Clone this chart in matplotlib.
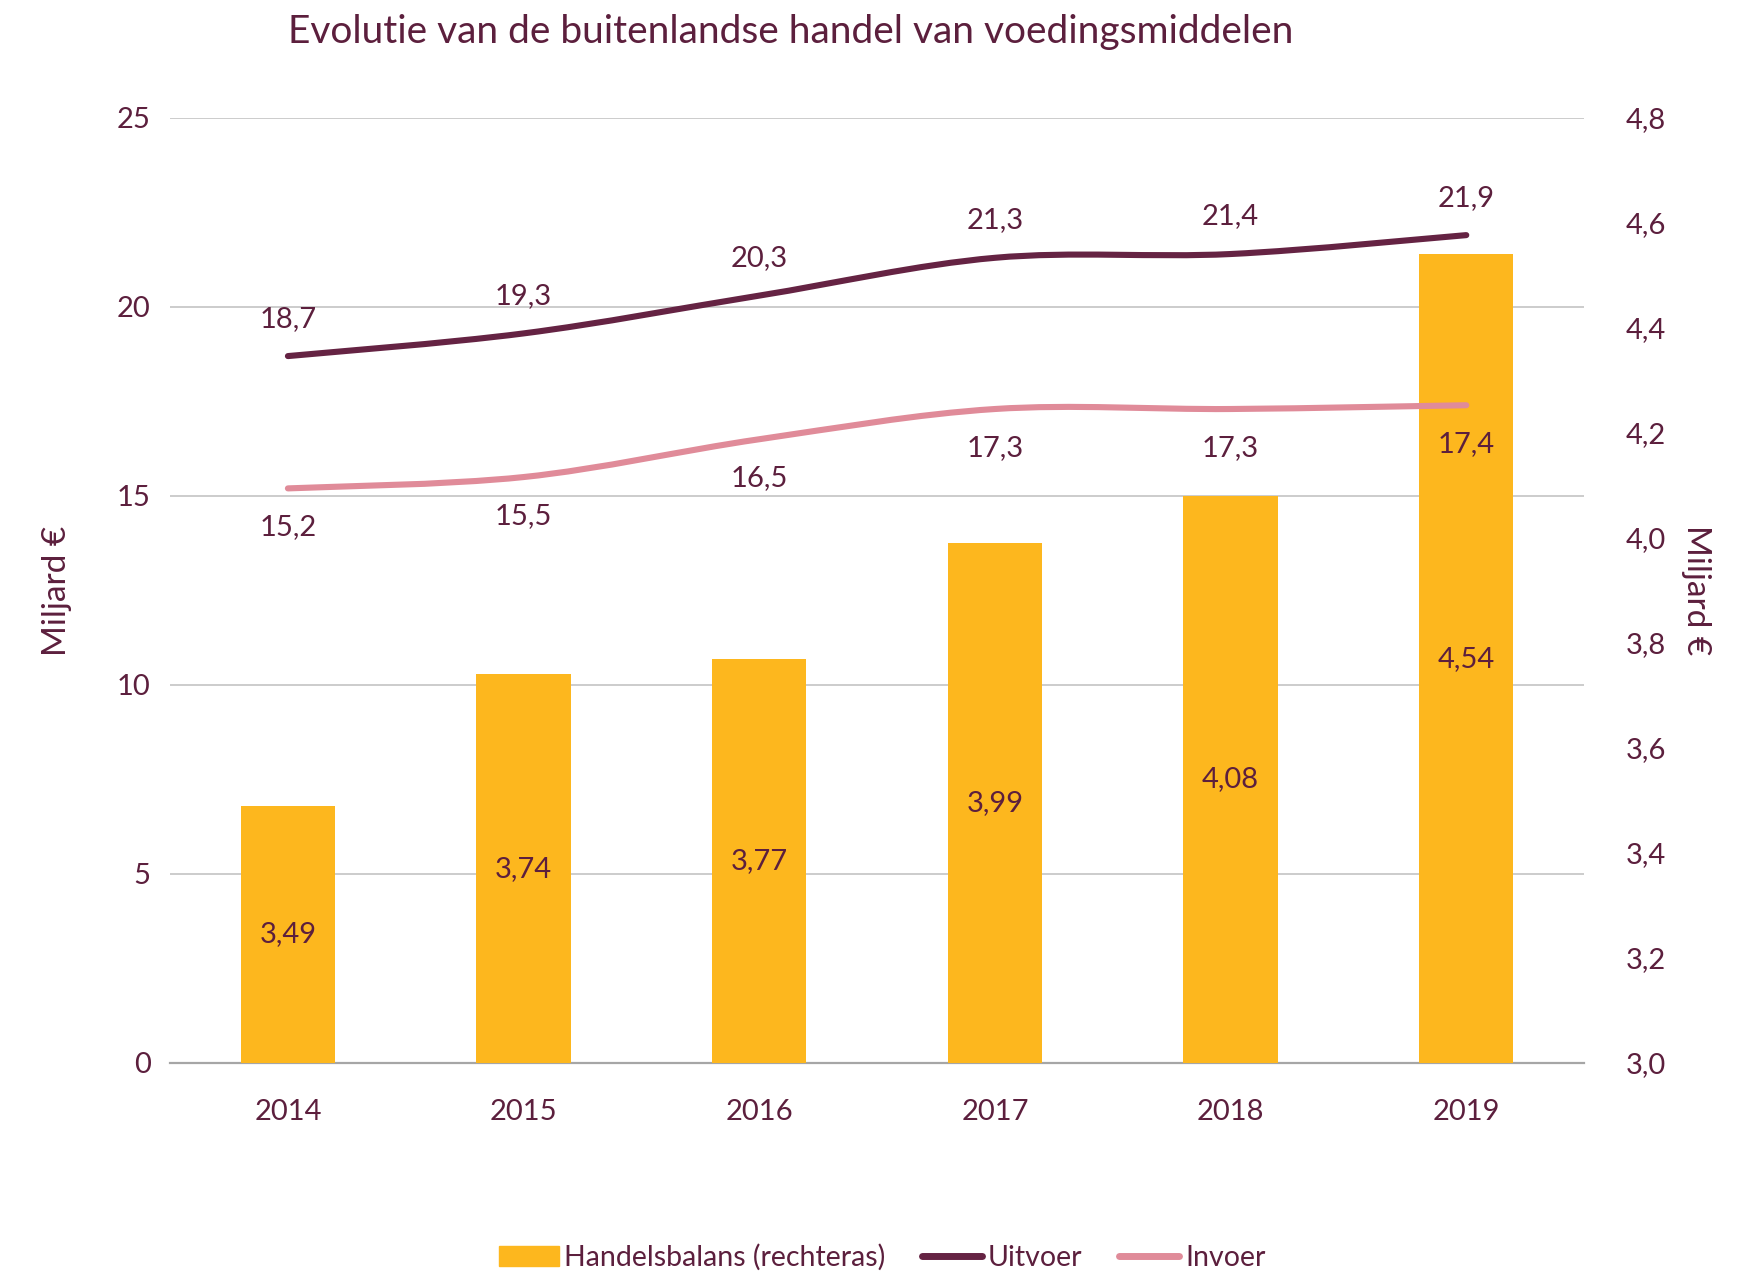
import numpy as np
import matplotlib
matplotlib.use("Agg")
import matplotlib.pyplot as plt
from matplotlib.path import Path
from matplotlib.patches import PathPatch, Patch
from matplotlib.lines import Line2D

plt.rcParams['font.family'] = ['Lato', 'DejaVu Sans']

years = ['2014', '2015', '2016', '2017', '2018', '2019']
uitvoer = [18.7, 19.3, 20.3, 21.3, 21.4, 21.9]
invoer = [15.2, 15.5, 16.5, 17.3, 17.3, 17.4]
balans = [3.49, 3.74, 3.77, 3.99, 4.08, 4.54]

TXT = '#5C1F3D'
DARK = '#652343'
PINK = '#E08B99'
GOLD = '#FDB71E'
GRID = '#C4C4C4'
FS = 21


def fmt(v, nd):
    return f'{v:.{nd}f}'.replace('.', ',')


def smooth_path(x, y):
    # bezier segments like excel's "smoothed line"
    x = np.asarray(x, float)
    y = np.asarray(y, float)
    n = len(x)
    verts = [(x[0], y[0])]
    codes = [Path.MOVETO]
    for i in range(n - 1):
        x0, y0 = (x[i - 1], y[i - 1]) if i > 0 else (x[i], y[i])
        x3, y3 = (x[i + 2], y[i + 2]) if i + 2 < n else (x[i + 1], y[i + 1])
        c1 = (x[i] + (x[i + 1] - x0) / 6, y[i] + (y[i + 1] - y0) / 6)
        c2 = (x[i + 1] - (x3 - x[i]) / 6, y[i + 1] - (y3 - y[i]) / 6)
        verts += [c1, c2, (x[i + 1], y[i + 1])]
        codes += [Path.CURVE4] * 3
    return Path(verts, codes)


fig = plt.figure(figsize=(17.57, 12.75), dpi=100)
ax = fig.add_axes([0.0968, 0.1663, 0.8048, 0.7412])
xs = np.arange(len(years))

# left axis: grid + ticks
ax.set_xlim(-0.5, len(years) - 0.5)
ax.set_ylim(0, 25)
ax.set_yticks(range(0, 26, 5))
ax.yaxis.grid(True, color=GRID, lw=1.2)
ax.set_xticks(xs)
ax.set_xticklabels(years)
for s in ['top', 'right', 'left']:
    ax.spines[s].set_visible(False)
ax.spines['bottom'].set_color('#A6A6A6')
ax.spines['bottom'].set_linewidth(1.6)
ax.tick_params(length=0, labelsize=FS, colors=TXT, pad=14)
ax.tick_params(axis='x', pad=26)
ax.set_ylabel('Miljard €', fontsize=24, color=TXT, labelpad=32)

# right axis: bars
ax2 = ax.twinx()
ax2.set_ylim(3.0, 4.8)
ax2.set_yticks(np.arange(3.0, 4.81, 0.2))
ax2.set_yticklabels([fmt(v, 1) for v in np.arange(3.0, 4.81, 0.2)])
ax2.bar(xs, [b - 3.0 for b in balans], bottom=3.0, width=0.4, color=GOLD)
for s in ax2.spines.values():
    s.set_visible(False)
ax2.tick_params(length=0, labelsize=FS, colors=TXT, pad=30)
ax2.set_ylabel('Miljard €', fontsize=24, color=TXT, rotation=270, labelpad=32)
for x, b in zip(xs, balans):
    ax2.text(x, (b + 3.0) / 2, fmt(b, 2), ha='center', va='center',
             fontsize=FS, color=TXT)

# lines on top, same scale as left axis
ax3 = ax.twinx()
ax3.set_ylim(ax.get_ylim())
ax3.set_xlim(ax.get_xlim())
ax3.axis('off')
for vals, col in [(invoer, PINK), (uitvoer, DARK)]:
    ax3.add_patch(PathPatch(smooth_path(xs, vals), fill=False, edgecolor=col,
                            lw=4.4, capstyle='round', joinstyle='round'))

for x, v in zip(xs, uitvoer):
    ax3.annotate(fmt(v, 1), (x, v), xytext=(0, 27), textcoords='offset points',
                 ha='center', va='center', fontsize=FS, color=TXT)
for x, v in zip(xs, invoer):
    ax3.annotate(fmt(v, 1), (x, v), xytext=(0, -28), textcoords='offset points',
                 ha='center', va='center', fontsize=FS, color=TXT)

fig.text(0.45, 0.975, 'Evolutie van de buitenlandse handel van voedingsmiddelen',
         ha='center', va='center', fontsize=28, color=TXT)

handles = [Patch(color=GOLD),
           Line2D([], [], color=DARK, lw=5, solid_capstyle='round'),
           Line2D([], [], color=PINK, lw=5, solid_capstyle='round')]
fig.legend(handles, ['Handelsbalans (rechteras)', 'Uitvoer', 'Invoer'],
           loc='center', bbox_to_anchor=(0.502, 0.014), ncol=3, frameon=False,
           fontsize=20.5, labelcolor=TXT, handlelength=2.1, handletextpad=0.2,
           columnspacing=1.3)

fig.savefig('out.png', dpi=100)
